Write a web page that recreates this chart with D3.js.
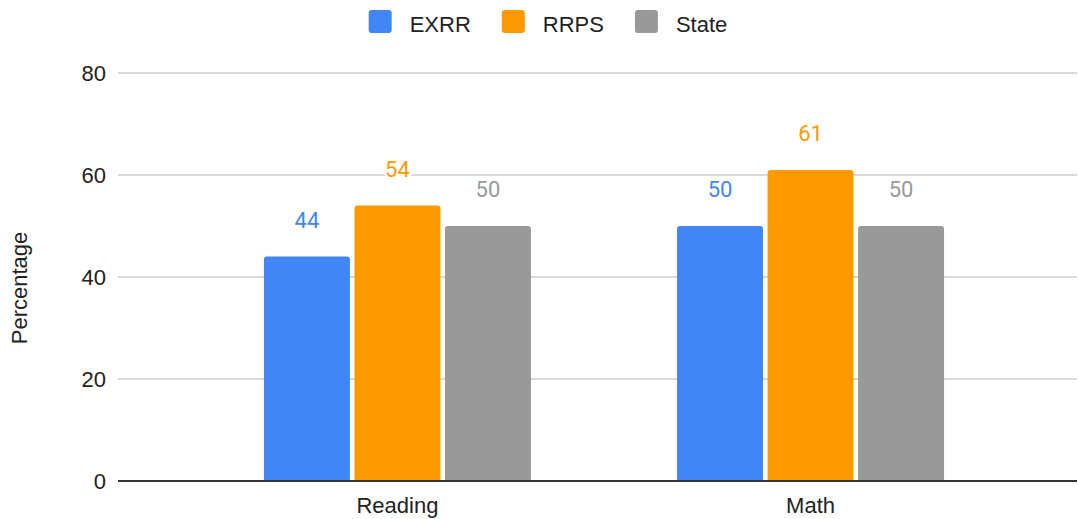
<!DOCTYPE html>
<html>
<head>
<meta charset="utf-8">
<script src="https://cdn.jsdelivr.net/npm/d3@7"></script>
<style>
  body { margin: 0; background: #fff; }
  svg { display: block; }
</style>
</head>
<body>
<div id="chart"></div>
<script>
const categories = ["Reading", "Math"];
const seriesNames = ["EXRR", "RRPS", "State"];
const exrrValues = [44, 50];
const rrpsValues = [54, 61];
const stateValues = [50, 50];
const yTicks = [0, 20, 40, 60, 80];

const seriesValues = [exrrValues, rrpsValues, stateValues];
const colors = ["#4285f4", "#ff9900", "#999999"];

const width = 1078, height = 519;
const plotLeft = 118, plotRight = 1077, plotTop = 73, plotBottom = 481;

const svg = d3.select("#chart").append("svg")
  .attr("width", width)
  .attr("height", height);

const y = d3.scaleLinear().domain([0, 80]).range([plotBottom, plotTop]);

const x0 = d3.scaleBand()
  .domain(categories)
  .range([131, plotRight])
  .paddingInner(0)
  .paddingOuter(0.145);

const groupWidth = 267;
const x1 = d3.scaleBand()
  .domain(seriesNames)
  .range([0, groupWidth])
  .paddingInner(0.05);

// gridlines
svg.append("g").selectAll("line")
  .data(yTicks.filter(d => d !== 0))
  .join("line")
  .attr("x1", plotLeft).attr("x2", plotRight)
  .attr("y1", d => y(d)).attr("y2", d => y(d))
  .attr("stroke", "#cccccc")
  .attr("stroke-width", 1.6);

// tick labels
svg.append("g").selectAll("text")
  .data(yTicks)
  .join("text")
  .attr("x", 106)
  .attr("y", d => y(d))
  .attr("text-anchor", "end")
  .attr("dominant-baseline", "central")
  .attr("font-family", "Liberation Sans, Arial, sans-serif")
  .attr("font-size", 22)
  .attr("fill", "#222")
  .text(d => d);

// bars
function topRounded(x, yTop, w, h, r) {
  r = Math.min(r, h);
  return `M${x},${yTop + h} V${yTop + r} Q${x},${yTop} ${x + r},${yTop} H${x + w - r} Q${x + w},${yTop} ${x + w},${yTop + r} V${yTop + h} Z`;
}

const barData = [];
categories.forEach((c, ci) => {
  seriesNames.forEach((s, si) => {
    barData.push({ cat: c, series: s, value: seriesValues[si][ci], color: colors[si] });
  });
});

const groupOffset = d => x0(d.cat) + x0.bandwidth() / 2 - groupWidth / 2;

svg.append("g").selectAll("path")
  .data(barData)
  .join("path")
  .attr("d", d => topRounded(groupOffset(d) + x1(d.series), y(d.value), x1.bandwidth(), plotBottom - y(d.value), 3))
  .attr("fill", d => d.color);

// value labels
svg.append("g").selectAll("text")
  .data(barData)
  .join("text")
  .attr("x", d => groupOffset(d) + x1(d.series) + x1.bandwidth() / 2)
  .attr("y", d => y(d.value) - 29)
  .attr("text-anchor", "middle")
  .attr("font-family", "Roboto, sans-serif")
  .attr("font-size", 22)
  .attr("fill", d => d.color)
  .attr("stroke", "#fff")
  .attr("stroke-width", 4)
  .attr("paint-order", "stroke")
  .text(d => d.value);

// baseline
svg.append("line")
  .attr("x1", plotLeft).attr("x2", plotRight)
  .attr("y1", plotBottom).attr("y2", plotBottom)
  .attr("stroke", "#333")
  .attr("stroke-width", 2);

// category labels
svg.append("g").selectAll("text")
  .data(categories)
  .join("text")
  .attr("x", d => x0(d) + x0.bandwidth() / 2)
  .attr("y", 513)
  .attr("text-anchor", "middle")
  .attr("font-family", "Liberation Sans, Arial, sans-serif")
  .attr("font-size", 22)
  .attr("fill", "#222")
  .text(d => d);

// y axis title
svg.append("text")
  .attr("transform", "translate(27,288) rotate(-90)")
  .attr("text-anchor", "middle")
  .attr("font-family", "Liberation Sans, Arial, sans-serif")
  .attr("font-size", 22)
  .attr("fill", "#222")
  .text("Percentage");

// legend
const legend = svg.append("g");
let lx = 0;
seriesNames.forEach((s, i) => {
  const g = legend.append("g").attr("transform", `translate(${lx},0)`);
  g.append("rect")
    .attr("x", 0).attr("y", 10)
    .attr("width", 23).attr("height", 23)
    .attr("rx", 3)
    .attr("fill", colors[i]);
  const t = g.append("text")
    .attr("x", 41).attr("y", 32)
    .attr("font-family", "Liberation Sans, Arial, sans-serif")
    .attr("font-size", 22)
    .attr("fill", "#222")
    .text(s);
  lx += 41 + t.node().getComputedTextLength() + 31;
});
const legendW = lx - 31;
legend.attr("transform", `translate(${548 - legendW / 2},0)`);
</script>
</body>
</html>
